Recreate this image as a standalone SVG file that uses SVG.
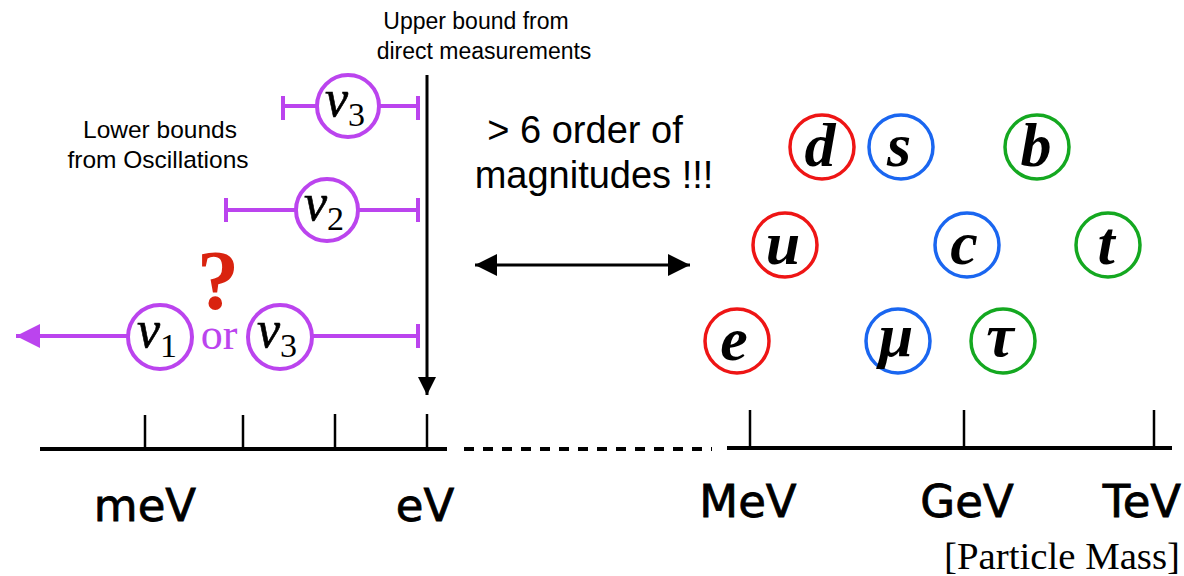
<svg xmlns="http://www.w3.org/2000/svg" width="1184" height="576" viewBox="0 0 1184 576">
  <defs>
    <marker id="headBlack" viewBox="0 0 10 10" refX="10" refY="5" markerWidth="22" markerHeight="22" markerUnits="userSpaceOnUse" orient="auto-start-reverse">
      <path d="M0,0 L10,5 L0,10 Z" fill="#000"/>
    </marker>
    <marker id="headDown" viewBox="0 0 10 10" refX="10" refY="5" markerWidth="18" markerHeight="18" markerUnits="userSpaceOnUse" orient="auto">
      <path d="M0,0 L10,5 L0,10 Z" fill="#000"/>
    </marker>
    <marker id="headPurple" viewBox="0 0 10 10" refX="10" refY="5" markerWidth="24" markerHeight="24" markerUnits="userSpaceOnUse" orient="auto">
      <path d="M0,0 L10,5 L0,10 Z" fill="#BB44EE"/>
    </marker>
  </defs>
  <style>
    .axis { stroke: #000; stroke-width: 4; fill: none; }
    .tick { stroke: #000; stroke-width: 2.5; }
    .unit { font-family: "DejaVu Sans", sans-serif; font-size: 45px; fill: #000; stroke: #000; stroke-width: 0.8; text-anchor: middle; }
    .note { font-family: "Liberation Sans", Arial, sans-serif; font-size: 23px; fill: #000; text-anchor: middle; }
    .note2 { font-family: "Liberation Sans", Arial, sans-serif; font-size: 24.5px; fill: #000; text-anchor: middle; }
    .big { font-family: "Liberation Sans", Arial, sans-serif; font-size: 38px; fill: #000; text-anchor: middle; }
    .range { stroke: #BB44EE; stroke-width: 4; fill: none; }
    .nu { fill: #fff; stroke: #BB44EE; stroke-width: 4; }
    .nuSym { font-family: "Liberation Serif", "Times New Roman", serif; font-style: italic; font-size: 52px; fill: #000; stroke: #000; stroke-width: 0.6; text-anchor: middle; }
    .sub { font-family: "Liberation Serif", "Times New Roman", serif; font-size: 34px; font-style: normal; stroke-width: 0; }
    .part { fill: #fff; stroke-width: 3.5; }
    .red { stroke: #EE1515; }
    .blue { stroke: #1A66F0; }
    .green { stroke: #14A820; }
    .sym { font-family: "Liberation Serif", "Times New Roman", serif; font-style: italic; font-weight: bold; font-size: 62px; fill: #000; text-anchor: middle; }
  </style>

  <!-- mass axis -->
  <g id="axis">
    <line class="axis" x1="40" y1="449" x2="447" y2="449"/>
    <line class="axis" x1="464" y1="449" x2="712" y2="449" stroke-dasharray="10,9"/>
    <line class="axis" x1="727" y1="448" x2="1172" y2="448"/>
    <line class="tick" x1="145" y1="415" x2="145" y2="449"/>
    <line class="tick" x1="243" y1="415" x2="243" y2="449"/>
    <line class="tick" x1="335" y1="414" x2="335" y2="449"/>
    <line class="tick" x1="427" y1="414" x2="427" y2="449"/>
    <line class="tick" x1="750" y1="410" x2="750" y2="448"/>
    <line class="tick" x1="964" y1="410" x2="964" y2="448"/>
    <line class="tick" x1="1154" y1="410" x2="1154" y2="448"/>
    <text class="unit" x="145" y="521">meV</text>
    <text class="unit" x="425" y="521">eV</text>
    <text class="unit" x="748" y="517">MeV</text>
    <text class="unit" x="967" y="517">GeV</text>
    <text class="unit" x="1142" y="517">TeV</text>
    <text x="1180" y="569" font-family="Liberation Serif, serif" font-size="38" text-anchor="end" fill="#000" textLength="236" lengthAdjust="spacingAndGlyphs">[Particle Mass]</text>
  </g>

  <!-- connectors -->
  <g id="connectors">
    <line x1="427" y1="75" x2="427" y2="395" stroke="#000" stroke-width="3" marker-end="url(#headDown)"/>
    <line x1="475" y1="265" x2="690" y2="265" stroke="#000" stroke-width="3" marker-start="url(#headBlack)" marker-end="url(#headBlack)"/>
    <!-- neutrino mass ranges -->
    <line class="range" x1="283" y1="106" x2="418" y2="106"/>
    <line class="range" x1="283" y1="96" x2="283" y2="120"/>
    <line class="range" x1="418" y1="96" x2="418" y2="120"/>
    <line class="range" x1="226" y1="210" x2="418" y2="210"/>
    <line class="range" x1="226" y1="198" x2="226" y2="222"/>
    <line class="range" x1="418" y1="198" x2="418" y2="222"/>
    <line class="range" x1="130" y1="336" x2="16" y2="336" marker-end="url(#headPurple)"/>
    <line class="range" x1="310" y1="336" x2="418" y2="336"/>
    <line class="range" x1="418" y1="324" x2="418" y2="348"/>
  </g>

  <!-- annotations -->
  <g id="upper-label">
    <text class="note" x="476" y="29">Upper bound from</text>
    <text class="note" x="484" y="59">direct measurements</text>
  </g>
  <g id="lower-label">
    <text class="note2" x="160" y="138">Lower bounds</text>
    <text class="note2" x="158" y="168">from Oscillations</text>
  </g>
  <g id="gap-label">
    <text class="big" x="585" y="143">&gt; 6 order of</text>
    <text class="big" x="594" y="188">magnitudes !!!</text>
  </g>
  <g id="question">
    <text x="218" y="309" font-family="Liberation Serif, serif" font-weight="bold" font-size="84" fill="#D9230F" text-anchor="middle">?</text>
    <text x="219" y="349" font-family="Liberation Serif, serif" font-size="44" fill="#BB44EE" text-anchor="middle">or</text>
  </g>

  <!-- neutrinos -->
  <g id="nu3-top">
    <circle class="nu" cx="348" cy="106" r="31"/>
    <text class="nuSym" x="345" y="116">ν<tspan class="sub" dy="10">3</tspan></text>
  </g>
  <g id="nu2">
    <circle class="nu" cx="327" cy="210" r="31"/>
    <text class="nuSym" x="324" y="220">ν<tspan class="sub" dy="10">2</tspan></text>
  </g>
  <g id="nu1">
    <circle class="nu" cx="160" cy="337" r="32"/>
    <text class="nuSym" x="157" y="347">ν<tspan class="sub" dy="10">1</tspan></text>
  </g>
  <g id="nu3-bottom">
    <circle class="nu" cx="280" cy="337" r="32"/>
    <text class="nuSym" x="277" y="347">ν<tspan class="sub" dy="10">3</tspan></text>
  </g>

  <!-- charged fermions -->
  <g id="d"><circle class="part red" cx="822" cy="147" r="32"/><text class="sym" x="820" y="166">d</text></g>
  <g id="s"><circle class="part blue" cx="901" cy="147" r="32"/><text class="sym" x="899" y="166">s</text></g>
  <g id="b"><circle class="part green" cx="1037" cy="147" r="32"/><text class="sym" x="1036" y="166">b</text></g>
  <g id="u"><circle class="part red" cx="785" cy="245" r="32"/><text class="sym" x="783" y="264">u</text></g>
  <g id="c"><circle class="part blue" cx="967" cy="245" r="32"/><text class="sym" x="964" y="264">c</text></g>
  <g id="t"><circle class="part green" cx="1108" cy="245" r="32"/><text class="sym" x="1106" y="264">t</text></g>
  <g id="e"><circle class="part red" cx="737" cy="341" r="32"/><text class="sym" x="734" y="360">e</text></g>
  <g id="mu"><circle class="part blue" cx="898" cy="341" r="32"/><text class="sym" x="896" y="356">μ</text></g>
  <g id="tau"><circle class="part green" cx="1003" cy="341" r="32"/><text class="sym" x="1000" y="356">τ</text></g>
</svg>
